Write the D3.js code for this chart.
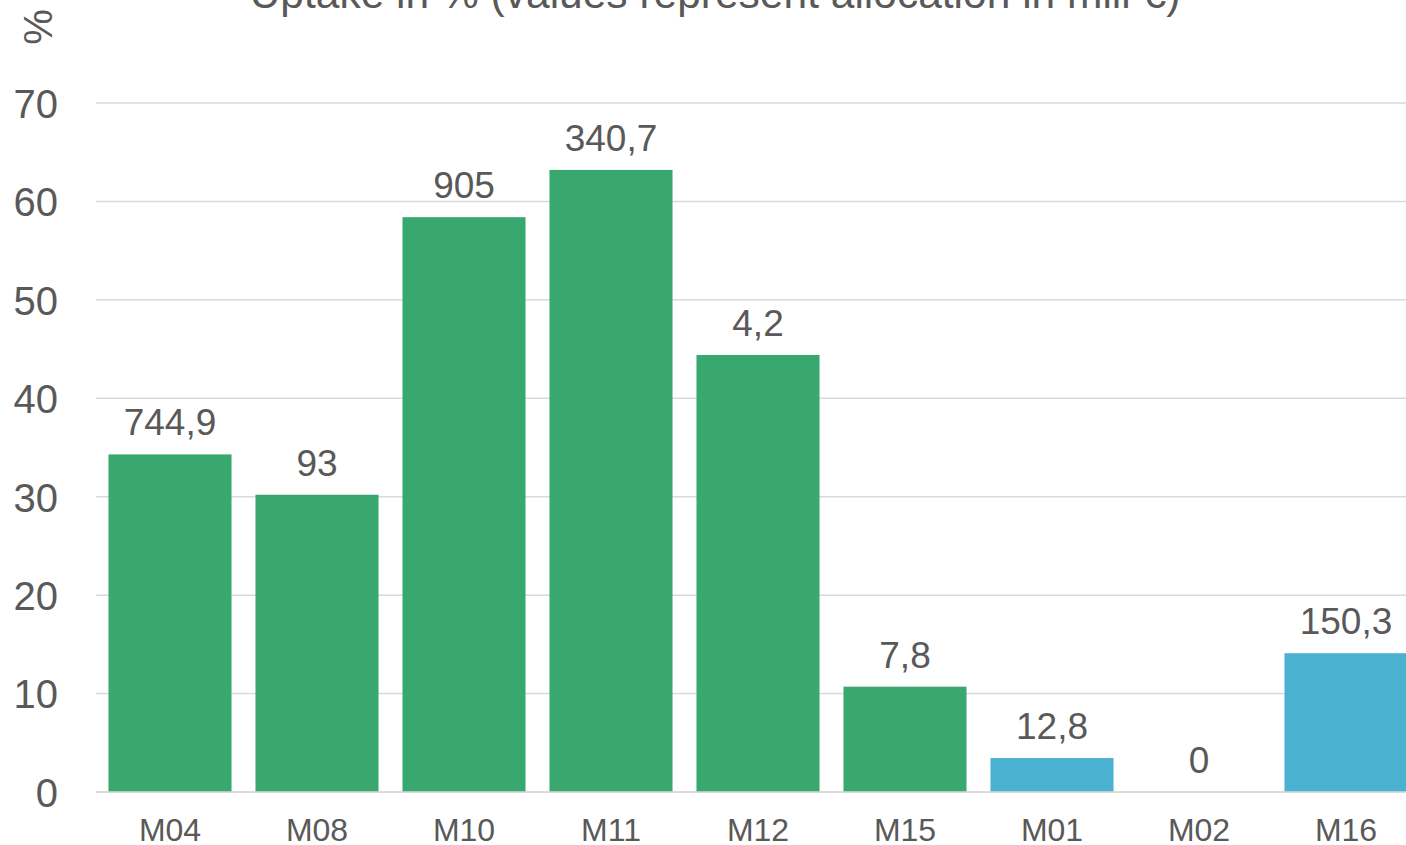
<!DOCTYPE html>
<html>
<head>
<meta charset="utf-8">
<script src="https://cdn.jsdelivr.net/npm/d3@7"></script>
<style>
  html, body { margin: 0; padding: 0; background: #ffffff; overflow: hidden; }
  svg { display: block; font-family: "Liberation Sans", Arial, sans-serif; }
</style>
</head>
<body>
<svg id="chart" width="1406" height="845"></svg>
<script>
// Measures, uptake share (%) and allocation labels (mill €)
const categories = ["M04", "M08", "M10", "M11", "M12", "M15", "M01", "M02", "M16"];
const uptake = [34.3, 30.2, 58.4, 63.2, 44.4, 10.7, 3.45, 0, 14.1];
const allocationLabels = ["744,9", "93", "905", "340,7", "4,2", "7,8", "12,8", "0", "150,3"];
const groups = ["A", "A", "A", "A", "A", "A", "B", "B", "B"];
const yTicks = [0, 10, 20, 30, 40, 50, 60, 70];
const titleText = "Uptake in % (values represent allocation in mill €)";

const colors = { A: "#38a86f", B: "#4bb1d1" };
const textColor = "#595959";

const svg = d3.select("#chart");

const x = d3.scaleBand()
  .domain(categories)
  .range([96.5, 1419.5])
  .paddingInner(0.163)
  .paddingOuter(0.0815);

const y = d3.scaleLinear()
  .domain([0, 70])
  .range([792, 103]);

// Horizontal gridlines
svg.append("g")
  .selectAll("line")
  .data(yTicks)
  .join("line")
  .attr("x1", 96)
  .attr("x2", 1420)
  .attr("y1", d => y(d))
  .attr("y2", d => y(d))
  .attr("stroke", "#d9d9d9")
  .attr("stroke-width", 1.5);

// Y axis labels
const yAxis = d3.axisLeft(y).tickValues(yTicks).tickSize(0).tickPadding(0);
const yg = svg.append("g")
  .attr("transform", "translate(58,0)")
  .call(yAxis);
yg.select(".domain").remove();
yg.selectAll("text")
  .attr("fill", textColor)
  .attr("font-size", 40)
  .attr("dy", "0.36em")
  .attr("font-family", "Liberation Sans, Arial, sans-serif");

// Bars
svg.append("g")
  .selectAll("rect")
  .data(categories)
  .join("rect")
  .attr("x", d => x(d))
  .attr("width", x.bandwidth())
  .attr("y", (d, i) => y(uptake[i]))
  .attr("height", (d, i) => y(0) - y(uptake[i]))
  .attr("fill", (d, i) => colors[groups[i]]);

// Baseline
svg.append("line")
  .attr("x1", 96).attr("x2", 1420)
  .attr("y1", y(0)).attr("y2", y(0))
  .attr("stroke", "#d9d9d9")
  .attr("stroke-width", 1.5);

// Allocation labels above bars
svg.append("g")
  .selectAll("text")
  .data(categories)
  .join("text")
  .attr("x", d => x(d) + x.bandwidth() / 2)
  .attr("y", (d, i) => y(uptake[i]) - 19)
  .attr("text-anchor", "middle")
  .attr("font-size", 37)
  .attr("fill", textColor)
  .text((d, i) => allocationLabels[i]);

// X axis category labels
const xAxis = d3.axisBottom(x).tickSize(0).tickPadding(0);
const xg = svg.append("g")
  .attr("transform", "translate(0,841)")
  .call(xAxis);
xg.select(".domain").remove();
xg.selectAll("text")
  .attr("fill", textColor)
  .attr("font-size", 32)
  .attr("dy", null)
  .attr("y", 0)
  .attr("font-family", "Liberation Sans, Arial, sans-serif");

// Title
svg.append("text")
  .attr("x", 715)
  .attr("y", 8)
  .attr("text-anchor", "middle")
  .attr("font-size", 42.5)
  .attr("fill", textColor)
  .text(titleText);

// Unit label
svg.append("text")
  .attr("transform", "translate(52,27) rotate(-90)")
  .attr("text-anchor", "middle")
  .attr("font-size", 40)
  .attr("fill", textColor)
  .text("%");
</script>
</body>
</html>
